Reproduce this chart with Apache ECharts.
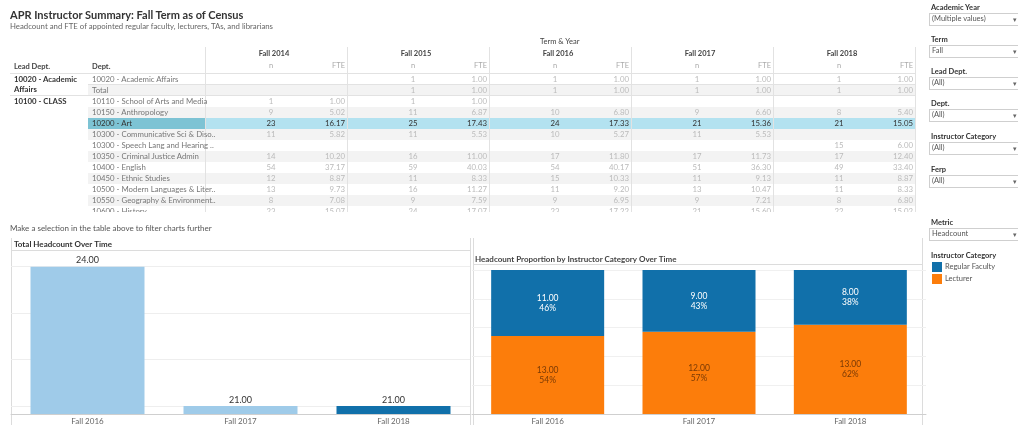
<!DOCTYPE html>
<html>
<head>
<meta charset="utf-8">
<script src="https://cdn.jsdelivr.net/npm/echarts@6/dist/echarts.min.js"></script>
<style>
  html, body { margin:0; padding:0; background:#fff; }
  body { width:1018px; height:425px; overflow:hidden; position:relative; font-family: Lato, "Open Sans", sans-serif; }
  #chart { position:absolute; left:0; top:0; width:1018px; height:425px; }
  #overlay { position:absolute; left:0; top:0; width:1018px; height:425px; pointer-events:none; }
  .t { position:absolute; white-space:nowrap; line-height:1; }
  .hl { position:absolute; height:1px; background:#e2e2e2; }
  .vl { position:absolute; width:1px; background:#e2e2e2; }
  .band { position:absolute; }
  .box { position:absolute; left:929px; width:96px; height:11px; border:1px solid #cfcfcf; background:#fff; }
</style>
</head>
<body>
<div id="chart"></div>
<div id="overlay"></div>
<script>
// ---------- data ----------
const chartYears = ['Fall 2016', 'Fall 2017', 'Fall 2018'];
const totalHeadcount = [24, 21, 21];
const regularFaculty = [11, 9, 8];
const lecturer = [13, 12, 13];
const totalGridValues = [21, 22, 23, 24];
const selectedYearIndex = 2;

const tableYears = ['Fall 2014', 'Fall 2015', 'Fall 2016', 'Fall 2017', 'Fall 2018'];
const leadDepts = [['10020 - Academic', 'Affairs'], null, ['10100 - CLASS'], null, null, null, null, null, null, null, null, null, null];
const depts = [
  '10020 - Academic Affairs', 'Total', '10110 - School of Arts and Media', '10150 - Anthropology', '10200 - Art',
  '10300 - Communicative Sci & Diso..', '10300 - Speech Lang and Hearing ..', '10350 - Criminal Justice Admin',
  '10400 - English', '10450 - Ethnic Studies', '10500 - Modern Languages & Liter..',
  '10550 - Geography & Environment..', '10600 - History'
];
const nFall2014 = [null, null, 1, 9, 23, 11, null, 14, 54, 12, 13, 8, 23];
const fteFall2014 = [null, null, 1.00, 5.02, 16.17, 5.82, null, 10.20, 37.17, 8.87, 9.73, 7.08, 15.07];
const nFall2015 = [1, 1, 1, 11, 25, 11, null, 16, 59, 11, 16, 9, 24];
const fteFall2015 = [1.00, 1.00, 1.00, 6.87, 17.43, 5.53, null, 11.00, 40.03, 8.33, 11.27, 7.59, 17.07];
const nFall2016 = [1, 1, null, 10, 24, 10, null, 17, 54, 15, 11, 9, 23];
const fteFall2016 = [1.00, 1.00, null, 6.80, 17.33, 5.27, null, 11.80, 40.17, 10.33, 9.20, 6.95, 17.22];
const nFall2017 = [1, 1, null, 9, 21, 11, null, 17, 51, 11, 13, 9, 21];
const fteFall2017 = [1.00, 1.00, null, 6.60, 15.36, 5.53, null, 11.73, 36.30, 9.13, 10.47, 7.21, 15.60];
const nFall2018 = [1, 1, null, 8, 21, null, 15, 17, 49, 11, 11, 8, 22];
const fteFall2018 = [1.00, 1.00, null, 5.40, 15.05, null, 6.00, 12.40, 33.40, 8.87, 8.33, 6.80, 15.02];
const selectedRow = 4;

const filters = [
  ['Academic Year', '(Multiple values)'], ['Term', 'Fall'], ['Lead Dept.', '(All)'],
  ['Dept.', '(All)'], ['Instructor Category', '(All)'], ['Ferp', '(All)']
];
const metricFilter = ['Metric', 'Headcount'];

// ---------- colours ----------
const C_DARK = '#1170aa', C_LIGHT = '#9fcbe9', C_ORANGE = '#fc7d0b';

// ---------- overlay (dashboard text + crosstab) ----------
const ov = document.getElementById('overlay');
function txt(s, x, y, opt) {
  opt = opt || {};
  const d = document.createElement('div');
  d.className = 't';
  d.textContent = s;
  d.style.fontSize = (opt.size || 7.5) + 'px';
  d.style.color = opt.color || '#555';
  if (opt.bold) d.style.fontWeight = 'bold';
  d.style.top = (y - (opt.size || 7.5) / 2) + 'px';
  if (opt.align === 'center') { d.style.left = (x - 100) + 'px'; d.style.width = '200px'; d.style.textAlign = 'center'; }
  else if (opt.align === 'right') { d.style.left = (x - 200) + 'px'; d.style.width = '200px'; d.style.textAlign = 'right'; }
  else d.style.left = x + 'px';
  (opt.parent || ov).appendChild(d);
  return d;
}
function rect(cls, x, y, w, h, color, parent) {
  const d = document.createElement('div');
  d.className = cls;
  d.style.left = x + 'px'; d.style.top = y + 'px'; d.style.width = w + 'px'; d.style.height = h + 'px';
  if (color) d.style.background = color;
  (parent || ov).appendChild(d);
  return d;
}

txt('APR Instructor Summary: Fall Term as of Census', 10, 14, {size: 11, bold: true, color: '#333'});
txt('Headcount and FTE of appointed regular faculty, lecturers, TAs, and librarians', 10, 27, {size: 7.8, color: '#666'});
txt('Make a selection in the table above to filter charts further', 10, 228, {size: 8, color: '#555'});

// table (clipped)
const tbl = document.createElement('div');
tbl.style.cssText = 'position:absolute;left:0;top:0;width:1018px;height:212px;overflow:hidden;';
ov.appendChild(tbl);
const colX0 = 205, colW = 142, rowTop = 73, rowH = 11;
const nCols = [nFall2014, nFall2015, nFall2016, nFall2017, nFall2018];
const fteCols = [fteFall2014, fteFall2015, fteFall2016, fteFall2017, fteFall2018];

depts.forEach((d, i) => {
  const top = rowTop + i * rowH;
  if (i === selectedRow) {
    rect('band', 88, top + 1, 827, rowH, '#b3e2f0', tbl);
    rect('band', 88, top + 1, 117, rowH, '#7dc3d4', tbl);
  } else if (i % 2 === 1) {
    rect('band', 88, top + 1, 827, rowH, '#f3f3f3', tbl);
  }
});
rect('hl', 10, 73, 905, 1, null, tbl);
rect('hl', 88, 84, 827, 1, null, tbl);
rect('hl', 10, 95, 905, 1, null, tbl);
for (let j = 0; j <= tableYears.length; j++) rect('vl', colX0 + j * colW, 47, 1, 170, null, tbl);

txt('Term & Year', 540, 42, {size: 7.5, color: '#444', parent: tbl});
txt('Lead Dept.', 14, 67, {size: 7.5, bold: true, color: '#444', parent: tbl});
txt('Dept.', 92, 67, {size: 7.5, bold: true, color: '#444', parent: tbl});
tableYears.forEach((y, j) => {
  const x0 = colX0 + j * colW;
  txt(y, x0 + 69, 54, {size: 7.5, bold: true, color: '#444', align: 'center', parent: tbl});
  txt('n', x0 + 66, 66, {size: 7.5, color: '#aaa', align: 'center', parent: tbl});
  txt('FTE', x0 + 140, 66, {size: 7.5, color: '#aaa', align: 'right', parent: tbl});
});
depts.forEach((d, i) => {
  const cy = rowTop + i * rowH + 6.5;
  const sel = i === selectedRow;
  if (leadDepts[i]) leadDepts[i].forEach((s, k) => txt(s, 14, cy + k * 10.5, {size: 7.8, bold: true, color: '#333', parent: tbl}));
  txt(d, 92, cy, {size: 7.8, color: sel ? '#333' : '#777', parent: tbl});
  for (let j = 0; j < tableYears.length; j++) {
    const x0 = colX0 + j * colW;
    const n = nCols[j][i], f = fteCols[j][i];
    const col = sel ? '#333' : '#bbb';
    if (n != null) txt(String(n), x0 + 66, cy, {size: 7.8, color: col, align: 'center', parent: tbl});
    if (f != null) txt(f.toFixed(2), x0 + 140, cy, {size: 7.8, color: col, align: 'right', parent: tbl});
  }
});

// filter panel
const filterY = [8, 40, 72, 104, 137, 170];
filters.forEach((f, i) => {
  const y = filterY[i];
  txt(f[0], 931, y, {size: 7.5, bold: true, color: '#333'});
  rect('box', 929, y + 5, 96, 11);
  txt(f[1], 932, y + 11, {size: 7.5, color: '#555'});
  txt('\u25BE', 1013, y + 11, {size: 7, color: '#666'});
});
txt(metricFilter[0], 931, 223, {size: 7.5, bold: true, color: '#333'});
rect('box', 929, 228, 96, 11);
txt(metricFilter[1], 932, 234, {size: 7.5, color: '#555'});
txt('\u25BE', 1013, 234, {size: 7, color: '#666'});
txt('Instructor Category', 931, 256, {size: 7.5, bold: true, color: '#333'});

// ---------- ECharts ----------
const chart = echarts.init(document.getElementById('chart'), null, {renderer: 'canvas'});
const totals = regularFaculty.map((v, i) => v + lecturer[i]);
const lineStyle = {stroke: '#dcdcdc', lineWidth: 1};

const option = {
  animation: false,
  textStyle: {fontFamily: 'Lato, "Open Sans", sans-serif'},
  title: [
    {text: 'Total Headcount Over Time', left: 14, top: 240, padding: 0, textStyle: {fontSize: 8, fontWeight: 'bold', color: '#333'}},
    {text: 'Headcount Proportion by Instructor Category Over Time', left: 475, top: 255, padding: 0, textStyle: {fontSize: 8, fontWeight: 'bold', color: '#444'}}
  ],
  legend: {
    data: ['Regular Faculty', 'Lecturer'],
    orient: 'vertical', left: 932, top: 262, padding: 0, itemWidth: 10, itemHeight: 10, itemGap: 2,
    icon: 'rect', textStyle: {fontSize: 7.5, color: '#555', padding: [0, 0, 0, -2]}
  },
  grid: [
    {left: 11, width: 459, top: 250, bottom: 9},
    {left: 472, width: 454, top: 270, bottom: 9}
  ],
  xAxis: [
    {type: 'category', gridIndex: 0, data: chartYears, axisTick: {show: false},
     axisLine: {lineStyle: {color: '#cfcfcf'}}, axisLabel: {color: '#666', fontSize: 8, margin: 3}},
    {type: 'category', gridIndex: 1, data: chartYears, axisTick: {show: false},
     axisLine: {lineStyle: {color: '#cfcfcf'}}, axisLabel: {color: '#666', fontSize: 8, margin: 3}}
  ],
  yAxis: [
    {type: 'value', gridIndex: 0, min: 20.83, max: 24.36, show: false, splitLine: {show: false}},
    {type: 'value', gridIndex: 1, min: 0, max: 1, interval: 0.2, axisLabel: {show: false},
     axisLine: {show: false}, axisTick: {show: false}, splitLine: {lineStyle: {color: '#f0f0f0'}}}
  ],
  series: [
    {
      name: 'gridlines', type: 'line', xAxisIndex: 0, yAxisIndex: 0, data: [], z: 0, silent: true,
      markLine: {silent: true, symbol: 'none', label: {show: false}, z: 0,
        lineStyle: {color: '#eeeeee', type: 'solid', width: 1},
        data: totalGridValues.map(v => ({yAxis: v}))}
    },
    {
      name: 'Total Headcount', type: 'bar', xAxisIndex: 0, yAxisIndex: 0, barWidth: 114, z: 3,
      data: totalHeadcount.map((v, i) => ({value: v, itemStyle: {color: i === selectedYearIndex ? C_DARK : C_LIGHT}})),
      label: {show: true, position: 'top', distance: 2, fontSize: 9, color: '#333', formatter: p => p.value.toFixed(2)}
    },
    {
      name: 'Lecturer', type: 'bar', stack: 'p', xAxisIndex: 1, yAxisIndex: 1, barWidth: 113,
      itemStyle: {color: C_ORANGE},
      data: lecturer.map((v, i) => v / totals[i]),
      label: {show: true, position: 'inside', fontSize: 8.5, lineHeight: 10, color: '#7a3a05',
        formatter: p => lecturer[p.dataIndex].toFixed(2) + '\n' + Math.round(p.value * 100) + '%'}
    },
    {
      name: 'Regular Faculty', type: 'bar', stack: 'p', xAxisIndex: 1, yAxisIndex: 1, barWidth: 113,
      itemStyle: {color: C_DARK},
      data: regularFaculty.map((v, i) => v / totals[i]),
      label: {show: true, position: 'inside', fontSize: 8.5, lineHeight: 10, color: '#fff',
        formatter: p => regularFaculty[p.dataIndex].toFixed(2) + '\n' + Math.round(p.value * 100) + '%'}
    }
  ],
  graphic: [
    {type: 'line', shape: {x1: 11.5, y1: 238, x2: 11.5, y2: 425}, style: lineStyle, silent: true},
    {type: 'line', shape: {x1: 470.5, y1: 238, x2: 470.5, y2: 425}, style: lineStyle, silent: true},
    {type: 'line', shape: {x1: 11, y1: 250.5, x2: 470, y2: 250.5}, style: lineStyle, silent: true},
    {type: 'line', shape: {x1: 473.5, y1: 238, x2: 473.5, y2: 425}, style: lineStyle, silent: true},
    {type: 'line', shape: {x1: 922.5, y1: 238, x2: 922.5, y2: 425}, style: lineStyle, silent: true},
    {type: 'line', shape: {x1: 473, y1: 264.5, x2: 922, y2: 264.5}, style: lineStyle, silent: true}
  ]
};
chart.setOption(option);
</script>
</body>
</html>
